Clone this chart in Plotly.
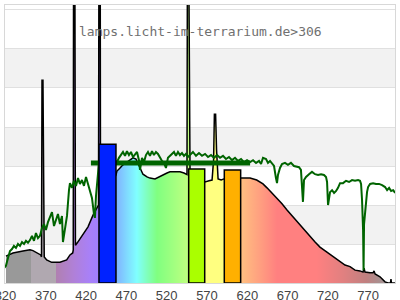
import plotly.graph_objects as go

# ---- lamp spectrum (relative intensity vs wavelength, nm) ----
lamp_nm = [320.6, 329.3, 341.7, 350.4, 354.1, 360.3, 363.7, 364.7, 365.3, 366.5, 367.5,
           368.1, 371.1, 377.3, 387.6, 395.9, 400.0, 403.4, 404.1, 404.5, 406.0, 406.8,
           409.1, 412.4, 416.2, 422.4, 428.6, 433.5, 435.4, 436.0, 437.5, 437.9, 447.2,
           457.1, 458.3, 462.1, 465.8, 470.8, 475.7, 478.2, 481.9, 484.4, 486.9, 490.6,
           495.6, 499.3, 505.5, 511.7, 515.4, 520.4, 524.1, 530.3, 536.5, 541.5, 545.2,
           545.8, 547.2, 549.0, 557.7, 566.4, 567.6, 572.6, 576.3, 578.2, 579.2, 580.7,
           581.9, 583.8, 587.6, 591.2, 601.1, 612.3, 623.5, 631.7, 635.9, 639.5, 644.5,
           650.7, 656.9, 663.1, 669.3, 675.5, 685.5, 691.7, 697.9, 704.1, 710.2, 718.9,
           726.4, 735.0, 741.3, 747.5, 753.7, 759.9, 763.6, 764.9, 766.1, 772.3, 776.1,
           777.3, 778.6, 784.7, 788.4, 790.9, 794.6, 797.7, 798.3, 798.9, 803.8]
lamp_val = [0.69, 0.77, 0.82, 0.85, 0.83, 0.77, 0.72, 0.67, 5.2, 5.2, 0.67,
            0.67, 0.59, 0.53, 0.53, 0.59, 0.72, 0.77, 0.85, 9.0, 9.0, 0.97,
            1.03, 1.13, 1.26, 1.44, 1.74, 1.92, 2.0, 9.0, 9.0, 2.13, 2.38,
            2.77, 2.87, 2.95, 3.03, 3.10, 3.18, 3.21, 3.18, 3.08, 2.95, 2.79,
            2.72, 2.69, 2.67, 2.72, 2.77, 2.82, 2.85, 2.85, 2.85, 2.82, 2.78,
            9.0, 9.0, 2.74, 2.69, 2.62, 2.59, 2.62, 2.64, 3.15, 4.33, 4.33,
            3.41, 2.67, 2.64, 2.67, 2.69, 2.69, 2.69, 2.64, 2.59, 2.54, 2.44,
            2.31, 2.18, 2.03, 1.87, 1.72, 1.49, 1.33, 1.18, 1.05, 0.92, 0.79,
            0.67, 0.55, 0.46, 0.42, 0.33, 0.31, 0.28, 0.38, 0.28, 0.26, 0.26,
            0.31, 0.23, 0.16, 0.08, 0.03, 0.0, 0.0, 0.10, 0.0, 0.0]

# ---- daylight reference spectrum ----
sun_nm = [313.2, 320.6, 323.1, 325.6, 328.1, 330.5, 333.0, 335.5, 338.0, 340.5, 343.0, 345.4,
          347.9, 350.4, 352.9, 355.4, 357.8, 360.3, 362.8, 365.3, 367.8, 370.2, 372.7,
          375.2, 377.7, 380.2, 382.7, 385.1, 387.6, 390.1, 391.3, 393.8, 396.3, 398.8,
          400.0, 402.5, 405.0, 407.5, 410.0, 412.4, 414.9, 417.4, 419.9, 422.4, 424.8,
          427.3, 429.8, 431.0, 432.3, 433.5, 434.8, 436.0, 447.2, 458.3, 460.8, 463.3,
          465.8, 468.3, 470.7, 473.2, 475.7, 478.2, 480.7, 483.2, 485.6, 486.9, 489.4,
          491.8, 494.3, 496.8, 499.3, 501.8, 504.2, 506.7, 509.2, 511.7, 514.2, 516.7,
          519.1, 521.6, 524.1, 526.6, 529.1, 531.5, 534.0, 536.5, 539.0, 541.5, 543.9,
          546.4, 548.9, 552.6, 556.4, 560.1, 563.8, 567.6, 571.3, 575.0, 578.7, 582.5,
          586.2, 589.9, 593.6, 597.3, 601.1, 604.8, 608.5, 612.3, 616.0, 619.7, 623.5,
          627.2, 630.9, 634.6, 637.1, 639.5, 643.3, 645.7, 648.2, 650.7, 653.2, 655.6,
          656.9, 658.1, 660.6, 663.1, 666.8, 670.5, 674.2, 678.0, 681.7, 684.2, 686.6,
          687.9, 689.1, 690.4, 692.9, 696.6, 700.3, 704.1, 707.8, 711.5, 715.2, 717.7,
          719.0, 720.2, 721.5, 722.7, 725.2, 727.7, 730.2, 732.6, 735.1, 738.8, 742.5,
          746.3, 750.0, 753.7, 757.5, 759.9, 761.2, 762.4, 763.7, 764.3, 764.9, 766.1,
          767.4, 768.6, 769.9, 772.4, 776.1, 779.8, 783.5, 787.3, 791.0, 793.5, 796.0,
          798.5, 801.0, 803.5]
sun_val = [0.26, 0.44, 0.64, 0.82, 0.87, 0.95, 0.90, 1.00, 0.95, 1.05, 1.00, 1.08,
           1.03, 1.10, 1.21, 1.08, 1.28, 1.15, 1.21, 1.41, 1.51, 1.36, 1.56,
           1.67, 1.82, 1.46, 1.62, 1.77, 1.51, 1.72, 1.05, 1.41, 1.72, 2.38,
           2.56, 2.44, 2.62, 2.49, 2.69, 2.54, 2.64, 2.49, 2.72, 2.54, 2.33,
           2.18, 1.77, 1.67, 2.23, 2.49, 2.69, 3.08, 3.15, 3.10, 3.21, 3.28,
           3.36, 3.26, 3.38, 3.28, 3.36, 3.23, 3.31, 3.36, 3.15, 2.90, 3.21,
           3.10, 3.28, 3.36, 3.26, 3.38, 3.28, 3.36, 3.31, 3.21, 3.13, 3.08,
           2.95, 3.21, 3.26, 3.31, 3.36, 3.26, 3.36, 3.28, 3.33, 3.26, 3.31,
           3.23, 3.28, 3.36, 3.26, 3.33, 3.26, 3.31, 3.23, 3.28, 3.21, 3.28,
           3.21, 3.26, 3.18, 3.23, 3.15, 3.21, 3.13, 3.18, 3.10, 3.15, 3.10,
           3.15, 3.08, 3.13, 3.05, 3.21, 3.18, 3.08, 3.13, 3.05, 3.00, 2.69,
           2.56, 2.77, 2.95, 3.05, 3.08, 3.03, 3.08, 3.00, 2.97, 2.97, 2.90,
           2.56, 2.08, 2.64, 2.72, 2.79, 2.85, 2.79, 2.77, 2.79, 2.77, 2.72,
           2.59, 2.00, 2.26, 2.33, 2.38, 2.31, 2.36, 2.44, 2.56, 2.56, 2.62,
           2.59, 2.64, 2.62, 2.64, 2.62, 2.54, 2.13, 1.36, 0.33, 1.51, 1.82,
           2.00, 2.33, 2.46, 2.54, 2.56, 2.54, 2.54, 2.51, 2.46, 2.38, 2.44,
           2.36, 2.38, 2.31]

# ---- daylight average band ----
band_nm = [426.0, 623.5]
band_val = [3.08, 3.08]

# ---- colour-range bars ----
bar_start = [436.0, 547.3, 591.5]
bar_end = [457.1, 567.2, 611.8]
bar_height = [3.56, 2.92, 2.90]
bar_colors = ["#0022ff", "#aaff00", "#ffb000"]

# ---- fill colour ramp (wavelength -> colour) ----
ramp_nm = [320, 351.5, 351.6, 382.6, 382.7, 405, 425, 436, 446, 457, 470, 483, 495, 508,
           528, 547, 567.2, 567.3, 591, 605, 612, 635, 657, 706, 740, 768, 785, 803.8]
ramp_col = ["#999999", "#999999", "#b0a8b0", "#b0a8b0", "#b080b0", "#b080d8", "#a880f8",
            "#a080ff", "#8080ff", "#80b0ff", "#80d8ff", "#80ffff", "#80ffc0", "#80ff80",
            "#a0ff80", "#c0ff80", "#c0ff80", "#ffff80", "#ffff80", "#ffd080", "#ffc080",
            "#ffa080", "#ff8080", "#ff8080", "#e08080", "#c08080", "#a89090", "#a0a0a0"]

x_range = [319.4, 803.3]
y_range = [0, 7.128]
title_text = "lamps.licht-im-terrarium.de>306"

lo, hi = ramp_nm[0], ramp_nm[-1]
colorscale = [[(n - lo) / (hi - lo), c] for n, c in zip(ramp_nm, ramp_col)]

fig = go.Figure()
fig.add_trace(go.Scatter(
    x=lamp_nm, y=lamp_val, mode="lines", fill="tozeroy",
    line=dict(color="black", width=1.5),
    fillgradient=dict(type="horizontal", colorscale=colorscale, start=lo, stop=hi),
    hoverinfo="skip", showlegend=False))
fig.add_trace(go.Scatter(
    x=sun_nm, y=sun_val, mode="lines", line=dict(color="#006400", width=2),
    hoverinfo="skip", showlegend=False))
fig.add_trace(go.Scatter(
    x=band_nm, y=band_val, mode="lines", line=dict(color="#006400", width=5),
    hoverinfo="skip", showlegend=False))
fig.add_trace(go.Bar(
    x=[(a + b) / 2 for a, b in zip(bar_start, bar_end)],
    width=[b - a for a, b in zip(bar_start, bar_end)],
    y=bar_height, marker=dict(color=bar_colors, line=dict(color="black", width=1.5)),
    xaxis="x2", yaxis="y2", hoverinfo="skip", showlegend=False))

shapes = [dict(type="rect", xref="paper", yref="y", x0=0, x1=1, y0=k, y1=k + 1,
               fillcolor="#f2f2f2", line=dict(width=0), layer="below")
          for k in (1, 3, 5)]

fig.update_layout(
    template="none",
    width=400, height=300,
    margin=dict(l=5, r=5, t=5, b=17, pad=0, autoexpand=False),
    paper_bgcolor="white", plot_bgcolor="white",
    shapes=shapes,
    xaxis=dict(range=x_range, tick0=320, dtick=50, showgrid=False, zeroline=False,
               automargin=False, ticklabeloverflow="allow",
               showline=True, mirror=True, linecolor="#d8d8d8", linewidth=1,
               ticks="", ticklen=0,
               tickfont=dict(family="Liberation Sans", size=13, color="#444444")),
    yaxis=dict(range=y_range, dtick=1, showgrid=True, gridcolor="#e0e0e0", gridwidth=1,
               automargin=False,
               zeroline=False, showticklabels=False, showline=True, mirror=True,
               linecolor="#d8d8d8", linewidth=1),
    xaxis2=dict(range=x_range, overlaying="x", visible=False, automargin=False),
    yaxis2=dict(range=y_range, overlaying="y", visible=False, automargin=False),
    barmode="overlay",
    annotations=[dict(text=title_text, xref="paper", yref="paper", x=0.5, y=0.903,
                      xanchor="center", yanchor="middle", showarrow=False,
                      font=dict(family="DejaVu Sans Mono", size=13, color="#707070"))],
)

fig.write_html("out.html", config={"displayModeBar": False})
